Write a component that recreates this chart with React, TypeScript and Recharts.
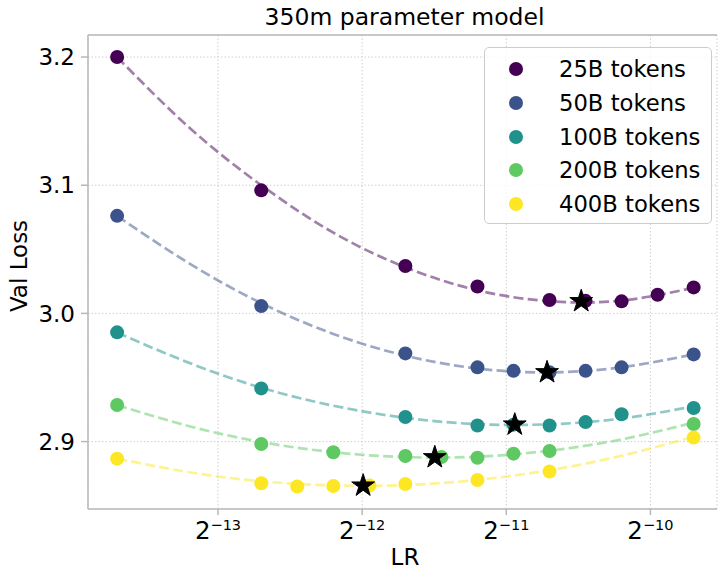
import { ComposedChart, Line, Scatter, XAxis, YAxis, CartesianGrid, ReferenceLine } from "recharts";

const FONT = "'DejaVu Sans', 'Liberation Sans', sans-serif";
const SPINE = "#b8b8b8";

// x values are log2(LR)
const X_MIN = -13.902;
const X_MAX = -9.538;
const Y_MIN = 2.8474;
const Y_MAX = 3.2172;
const xTicks = [-13, -12, -11, -10];
const yTicks = [2.9, 3.0, 3.1, 3.2];

const names = ["25B tokens", "50B tokens", "100B tokens", "200B tokens", "400B tokens"];
const colors = ["#440154", "#3b528b", "#21918c", "#5ec962", "#fde725"];

// measured runs
const lr25 = [-13.7, -12.7, -11.7, -11.2, -10.7, -10.45, -10.2, -9.95, -9.7];
const loss25 = [3.2, 3.096, 3.037, 3.021, 3.0105, 3.0098, 3.0094, 3.0145, 3.0203];
const lr50 = [-13.7, -12.7, -11.7, -11.2, -10.95, -10.7, -10.45, -10.2, -9.7];
const loss50 = [3.0761, 3.0057, 2.9688, 2.9579, 2.9552, 2.954, 2.9552, 2.9579, 2.968];
const lr100 = [-13.7, -12.7, -11.7, -11.2, -10.95, -10.7, -10.45, -10.2, -9.7];
const loss100 = [2.9852, 2.9415, 2.9192, 2.9125, 2.9132, 2.9125, 2.9152, 2.9213, 2.9262];
const lr200 = [-13.7, -12.7, -12.2, -11.7, -11.45, -11.2, -10.95, -10.7, -9.7];
const loss200 = [2.9285, 2.8981, 2.8917, 2.8888, 2.888, 2.8874, 2.8906, 2.8927, 2.9137];
const lr400 = [-13.7, -12.7, -12.45, -12.2, -11.95, -11.7, -11.2, -10.7, -9.7];
const loss400 = [2.8867, 2.8675, 2.8649, 2.8654, 2.8657, 2.8669, 2.87, 2.8766, 2.9031];

// dashed fit curves, read at these x positions
const curveLr = [-13.7, -13.2, -12.7, -12.2, -11.7, -11.2, -10.7, -10.2, -9.7];
const fit25 = [3.2, 3.145, 3.1, 3.063, 3.036, 3.018, 3.0095, 3.01, 3.02];
const fit50 = [3.076, 3.039, 3.008, 2.984, 2.967, 2.957, 2.954, 2.958, 2.968];
const fit100 = [2.985, 2.9614, 2.942, 2.928, 2.9185, 2.9136, 2.9135, 2.918, 2.9275];
const fit200 = [2.9285, 2.912, 2.8997, 2.8917, 2.8879, 2.8882, 2.8929, 2.9017, 2.9148];
const fit400 = [2.8867, 2.8761, 2.869, 2.8658, 2.8661, 2.8701, 2.8777, 2.8889, 2.9038];

// minimum of each fit (stars)
const bestLr = [-10.48, -10.717, -10.941, -11.496, -11.993];
const bestLoss = [3.0095, 2.954, 2.9132, 2.8877, 2.8656];

const pts = (xs: number[], ys: number[]) => xs.map((x, i) => ({ x, y: ys[i] }));

const series = [
  { pts: pts(lr25, loss25), fit: pts(curveLr, fit25) },
  { pts: pts(lr50, loss50), fit: pts(curveLr, fit50) },
  { pts: pts(lr100, loss100), fit: pts(curveLr, fit100) },
  { pts: pts(lr200, loss200), fit: pts(curveLr, fit200) },
  { pts: pts(lr400, loss400), fit: pts(curveLr, fit400) },
];
const stars = pts(bestLr, bestLoss);

function PowTick({ x, y, payload }: any) {
  return (
    <text x={x} y={y + 22} textAnchor="middle" fill="#000" fontFamily={FONT}>
      <tspan fontSize={24.5}>2</tspan>
      <tspan fontSize={14.5} dy={-9.5}>{"\u2212" + Math.abs(payload.value)}</tspan>
    </text>
  );
}

function Dot(color: string) {
  return (p: any) => <circle cx={p.cx} cy={p.cy} r={7} fill={color} />;
}

function Star(p: any) {
  const R = 12;
  const r = R * 0.382;
  let d = "";
  for (let i = 0; i < 10; i++) {
    const rad = i % 2 === 0 ? R : r;
    const a = (Math.PI / 5) * i - Math.PI / 2;
    d += (i === 0 ? "M" : "L") + (p.cx + rad * Math.cos(a)).toFixed(2) + "," + (p.cy + rad * Math.sin(a)).toFixed(2);
  }
  return <path d={d + "Z"} fill="#000" stroke="#000" strokeWidth={1} />;
}

function LegendBox() {
  return (
    <div style={{
      position: "absolute", left: 484, top: 47, width: 226, height: 175,
      border: "1px solid #cccccc", borderRadius: 5, background: "rgba(255,255,255,0.8)",
      fontFamily: FONT, fontSize: 22.7,
    }}>
      {names.map((n, i) => (
        <div key={n} style={{ position: "absolute", left: 0, top: 4 + i * 33.75, height: 34, width: 226, display: "flex", alignItems: "center" }}>
          <span style={{ position: "absolute", left: 24, width: 14, height: 14, borderRadius: 7, background: colors[i] }} />
          <span style={{ position: "absolute", left: 74, whiteSpace: "nowrap", color: "#000" }}>{n}</span>
        </div>
      ))}
    </div>
  );
}

export default function App() {
  return (
    <div style={{ position: "absolute", left: 0, top: 0, width: 718, height: 571, background: "#fff", fontFamily: FONT }}>
      <ComposedChart width={718} height={571} margin={{ top: 35, right: 1, bottom: 0, left: 28 }}>
        <CartesianGrid stroke="#cfcfcf" strokeDasharray="1.5 2" />
        <XAxis
          type="number" dataKey="x" domain={[X_MIN, X_MAX]} ticks={xTicks} allowDataOverflow
          height={62} tickSize={6} stroke={SPINE} strokeWidth={1.5} tick={<PowTick />}
        />
        <YAxis
          type="number" dataKey="y" domain={[Y_MIN, Y_MAX]} ticks={yTicks} allowDataOverflow
          width={60} tickSize={7} tickMargin={6} stroke={SPINE} strokeWidth={1.5}
          tickFormatter={(v: number) => v.toFixed(1)}
          tick={{ fill: "#000", fontSize: 23, fontFamily: FONT }}
        />
        <ReferenceLine y={Y_MAX} stroke={SPINE} strokeWidth={1.5} />
        {series.map((s, i) => (
          <Line
            key={"fit" + i} data={s.fit} dataKey="y" type="natural" stroke={colors[i]} strokeOpacity={0.5}
            strokeWidth={2.7} strokeDasharray="10 4.3" dot={false} legendType="none" isAnimationActive={false}
          />
        ))}
        {series.map((s, i) => (
          <Scatter key={"pts" + i} name={names[i]} data={s.pts} fill={colors[i]} shape={Dot(colors[i])} isAnimationActive={false} />
        ))}
        <Scatter data={stars} fill="#000" shape={Star} legendType="none" isAnimationActive={false} />
      </ComposedChart>
      <svg width={718} height={571} style={{ position: "absolute", left: 0, top: 0, pointerEvents: "none" }}>
        <text x={404.5} y={25} textAnchor="middle" fontSize={23.5} fontFamily={FONT} fill="#000">350m parameter model</text>
        <text x={405} y={565} textAnchor="middle" fontSize={23} fontFamily={FONT} fill="#000">LR</text>
        <text x={0} y={0} transform="translate(27,266) rotate(-90)" textAnchor="middle" fontSize={23} fontFamily={FONT} fill="#000">Val Loss</text>
      </svg>
      <LegendBox />
    </div>
  );
}
